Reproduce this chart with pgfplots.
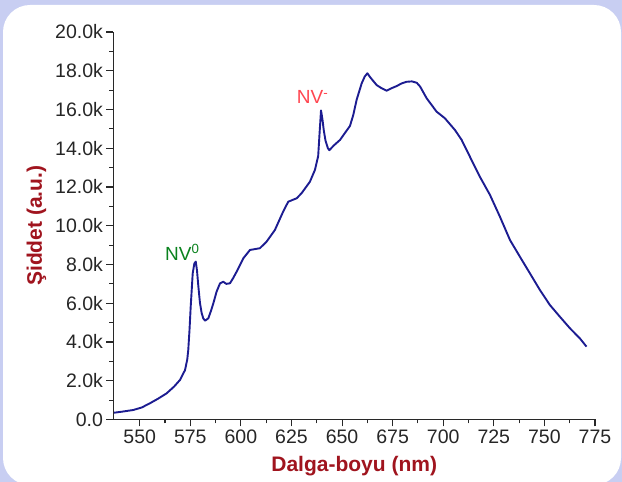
\documentclass[border=0pt]{standalone}
\usepackage{pgfplots}
\pgfplotsset{compat=1.18}
\usepackage{fontspec}
\setmainfont{Liberation Sans}

\definecolor{panelbg}{RGB}{200,206,242}
\definecolor{curveblue}{RGB}{28,28,145}
\definecolor{labelred}{RGB}{160,20,30}
\definecolor{nvgreen}{RGB}{10,130,30}
\definecolor{nvred}{RGB}{255,70,80}
\definecolor{axisgray}{RGB}{40,40,40}

\begin{document}
\begin{tikzpicture}[x=1pt,y=1pt]
	% background and white panel
	\fill[panelbg] (0,0) rectangle (622,482);
	\fill[white,rounded corners=27pt] (3,-3) rectangle (621,477);
	\begin{axis}[
		at={(113.4pt,62.5pt)}, anchor=south west,
		scale only axis, width=481.6pt, height=387.5pt,
		xmin=537, xmax=775, ymin=0, ymax=20000,
		axis lines=left,
		axis line style={-, line width=1.2pt, color=axisgray},
		every tick/.style={axisgray, line width=1.1pt},
		tick align=outside,
		major tick length=7pt, minor tick length=4pt,
		minor x tick num=1, minor y tick num=1,
		xtick={550,575,600,625,650,675,700,725,750,775},
		xticklabels={550,575,600,625,650,675,700,725,750,775},
		ytick={0,2000,4000,6000,8000,10000,12000,14000,16000,18000,20000},
		yticklabels={0.0,2.0k,4.0k,6.0k,8.0k,10.0k,12.0k,14.0k,16.0k,18.0k,20.0k},
		scaled y ticks=false,
		tick label style={font=\fontsize{19.5}{22}\selectfont, color=black!85},
		xlabel={Dalga-boyu (nm)},
		ylabel={Şiddet (a.u.)},
		label style={font=\bfseries\fontsize{21}{24}\selectfont, color=labelred},
		xlabel style={yshift=-6pt},
		ylabel style={yshift=2pt},
		clip=false,
		]
		\addplot[curveblue, line width=1.9pt, line join=round] coordinates {
			(537.3,350) (541,400) (546.8,490) (551,620) (555.1,840) (559,1070)
			(563.3,1350) (567,1700) (569.9,2040) (572.4,2550) (573.5,3100)
			(574.0,3590) (574.6,4600) (575.2,5820) (576.2,7550) (577.0,8050)
			(577.7,8150) (578.3,7700) (579.0,6850) (579.8,6000) (580.6,5500)
			(581.4,5220) (582.3,5100) (583.9,5220) (585.2,5600) (586.4,6000)
			(588.0,6600) (589.7,7030) (591.3,7110) (592.8,7000) (594.6,7030)
			(596.2,7300) (597.9,7630) (601.2,8320) (604.5,8750) (609.4,8840)
			(612.7,9180) (616.8,9780) (620.9,10730) (623.4,11240) (627.6,11420)
			(630.0,11680) (634.1,12270) (636.6,12880) (638.2,13600) (638.9,14800)
			(639.6,15950) (640.3,15500) (641.0,14900) (641.8,14400) (643.0,14000)
			(643.7,13900) (646,14150) (649.0,14430) (651.5,14800) (653.9,15150)
			(655.5,15700) (657.2,16500) (659.7,17350) (661.2,17700) (662.5,17870)
			(664,17650) (667.1,17260) (669.5,17100) (672.0,16970) (674.5,17100)
			(677.0,17210) (679.5,17350) (681.9,17430) (684.5,17450) (686.9,17380)
			(688.6,17180) (691.8,16580) (696.7,15890) (700.8,15550) (705.8,14940)
			(709.1,14430) (713.2,13560) (718.1,12530) (723.1,11590) (728.0,10470)
			(733.0,9260) (737.9,8400) (742.8,7550) (747.8,6680) (752.7,5910)
			(757.6,5310) (762.6,4710) (767.5,4190) (770.8,3760)
		};
		\node[anchor=base west, inner sep=0pt, text=nvgreen, font=\fontsize{19}{22}\selectfont]
			at (axis cs:562.5,8230) {NV\textsuperscript{0}};
		\node[anchor=base west, inner sep=0pt, text=nvred, font=\fontsize{19}{22}\selectfont]
			at (axis cs:627.6,16320) {NV\textsuperscript{-}};
	\end{axis}
	\pgfresetboundingbox
	\path (0,0) rectangle (622,482);
\end{tikzpicture}
\end{document}
